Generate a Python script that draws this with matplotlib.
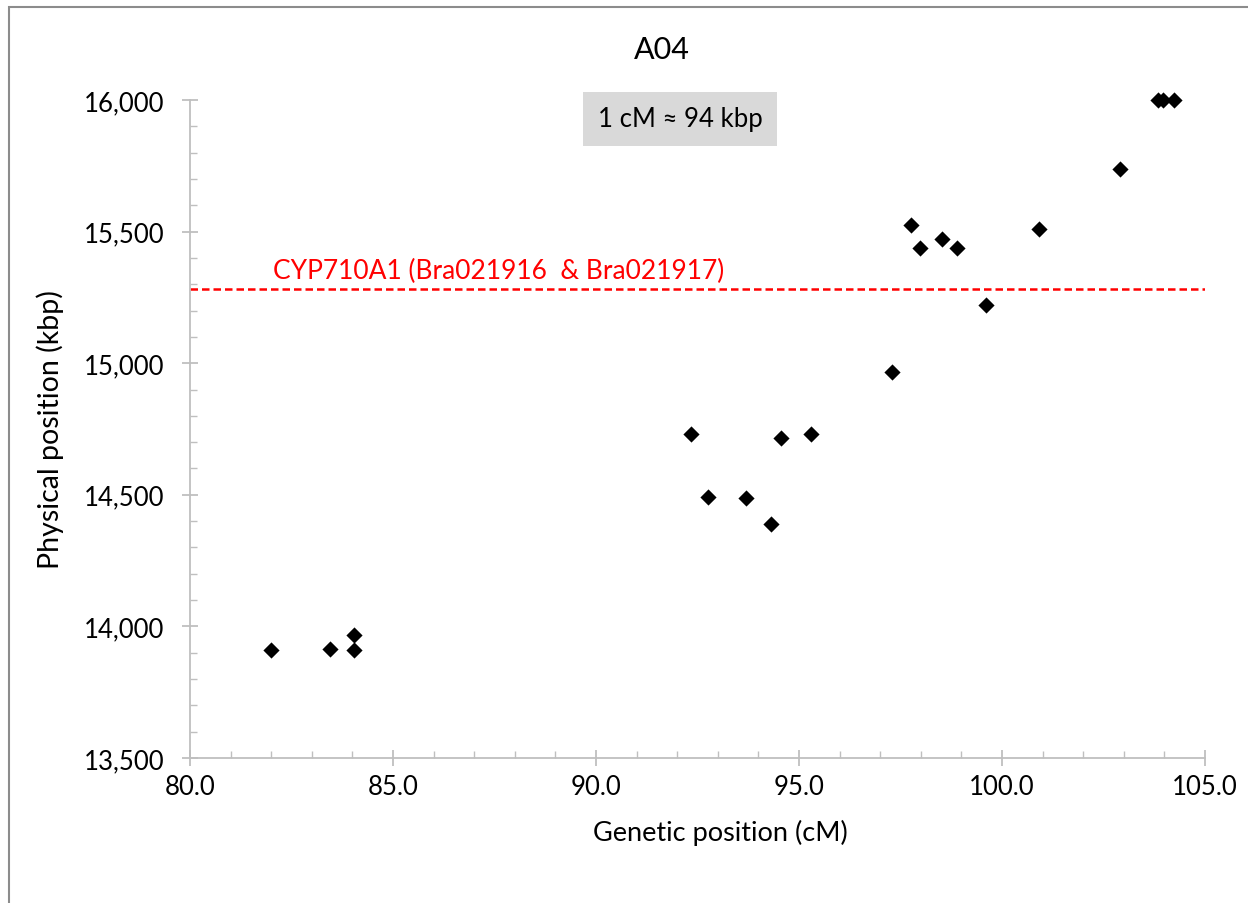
import matplotlib
matplotlib.use("Agg")
import matplotlib.pyplot as plt
from matplotlib.ticker import MultipleLocator, FuncFormatter
from matplotlib.patches import Rectangle

genetic_cm = [82.0, 83.45, 84.04, 84.04, 92.35, 92.75, 93.69, 94.30, 94.55, 95.30,
              97.29, 97.77, 97.98, 98.52, 98.90, 99.60, 100.90, 102.91, 103.84, 103.97, 104.24]
physical_kbp = [13910, 13914, 13967, 13910, 14731, 14490, 14488, 14390, 14715, 14731,
                14968, 15525, 15438, 15472, 15438, 15220, 15508, 15736, 16000, 16000, 16000]
gene_line_kbp = 15283
gene_label = "CYP710A1 (Bra021916  & Bra021917)"
ratio_label = "1 cM ≈ 94 kbp"
title = "A04"
xlabel = "Genetic position (cM)"
ylabel = "Physical position (kbp)"

plt.rcParams['font.family'] = ['Lato', 'DejaVu Sans']

W, H = 1248, 904
fig = plt.figure(figsize=(W/100, H/100), dpi=100)
ax = fig.add_axes([190/W, 1-759/H, (1205-190)/W, (759-101)/H])

# outer frame
fig.patches.append(Rectangle((9/W, -0.05), 1.2, 1-8/H+0.05, transform=fig.transFigure,
                             fill=False, edgecolor='#8c8c8c', linewidth=1.5, zorder=0))

ax.scatter(genetic_cm, physical_kbp, marker='D', s=68, color='black', zorder=3, linewidths=0,
           clip_on=False)
ax.axhline(gene_line_kbp, color='#ff0000', linestyle=(0, (3, 1.6)), linewidth=1.8, zorder=2)
ax.text(82.05, gene_line_kbp + 22, gene_label, color='#ff0000', fontsize=19,
        ha='left', va='bottom')

fig.text(680/W, 1-120/H, ratio_label, fontsize=18.5, ha='center', va='center',
         bbox=dict(boxstyle='square,pad=0.55', facecolor='#d9d9d9', edgecolor='none'))

ax.set_xlim(80, 105)
ax.set_ylim(13500, 16000)
ax.xaxis.set_major_locator(MultipleLocator(5))
ax.xaxis.set_minor_locator(MultipleLocator(1))
ax.yaxis.set_major_locator(MultipleLocator(500))
ax.yaxis.set_minor_locator(MultipleLocator(100))
ax.xaxis.set_major_formatter(FuncFormatter(lambda v, p: f"{v:.1f}"))
ax.yaxis.set_major_formatter(FuncFormatter(lambda v, p: f"{v:,.0f}"))

for s in ['top', 'right']:
    ax.spines[s].set_visible(False)
for s in ['left', 'bottom']:
    ax.spines[s].set_color('#bfbfbf')
    ax.spines[s].set_linewidth(1.3)

ax.tick_params(which='major', direction='inout', length=11, width=1.3, color='#bfbfbf',
               labelsize=18.5, labelcolor='black')
ax.tick_params(axis='x', which='major', pad=6)
ax.tick_params(axis='y', which='major', pad=13)
ax.tick_params(which='minor', direction='in', length=5, width=1.0, color='#bfbfbf')

fig.text(662/W, 1-50/H, title, fontsize=22, ha='center', va='center')
fig.text(720/W, 1-833/H, xlabel, fontsize=19.5, ha='center', va='center')
fig.text(50/W, 1-430/H, ylabel, fontsize=20.5, ha='center', va='center', rotation=90)

fig.savefig("out.png", dpi=100)
